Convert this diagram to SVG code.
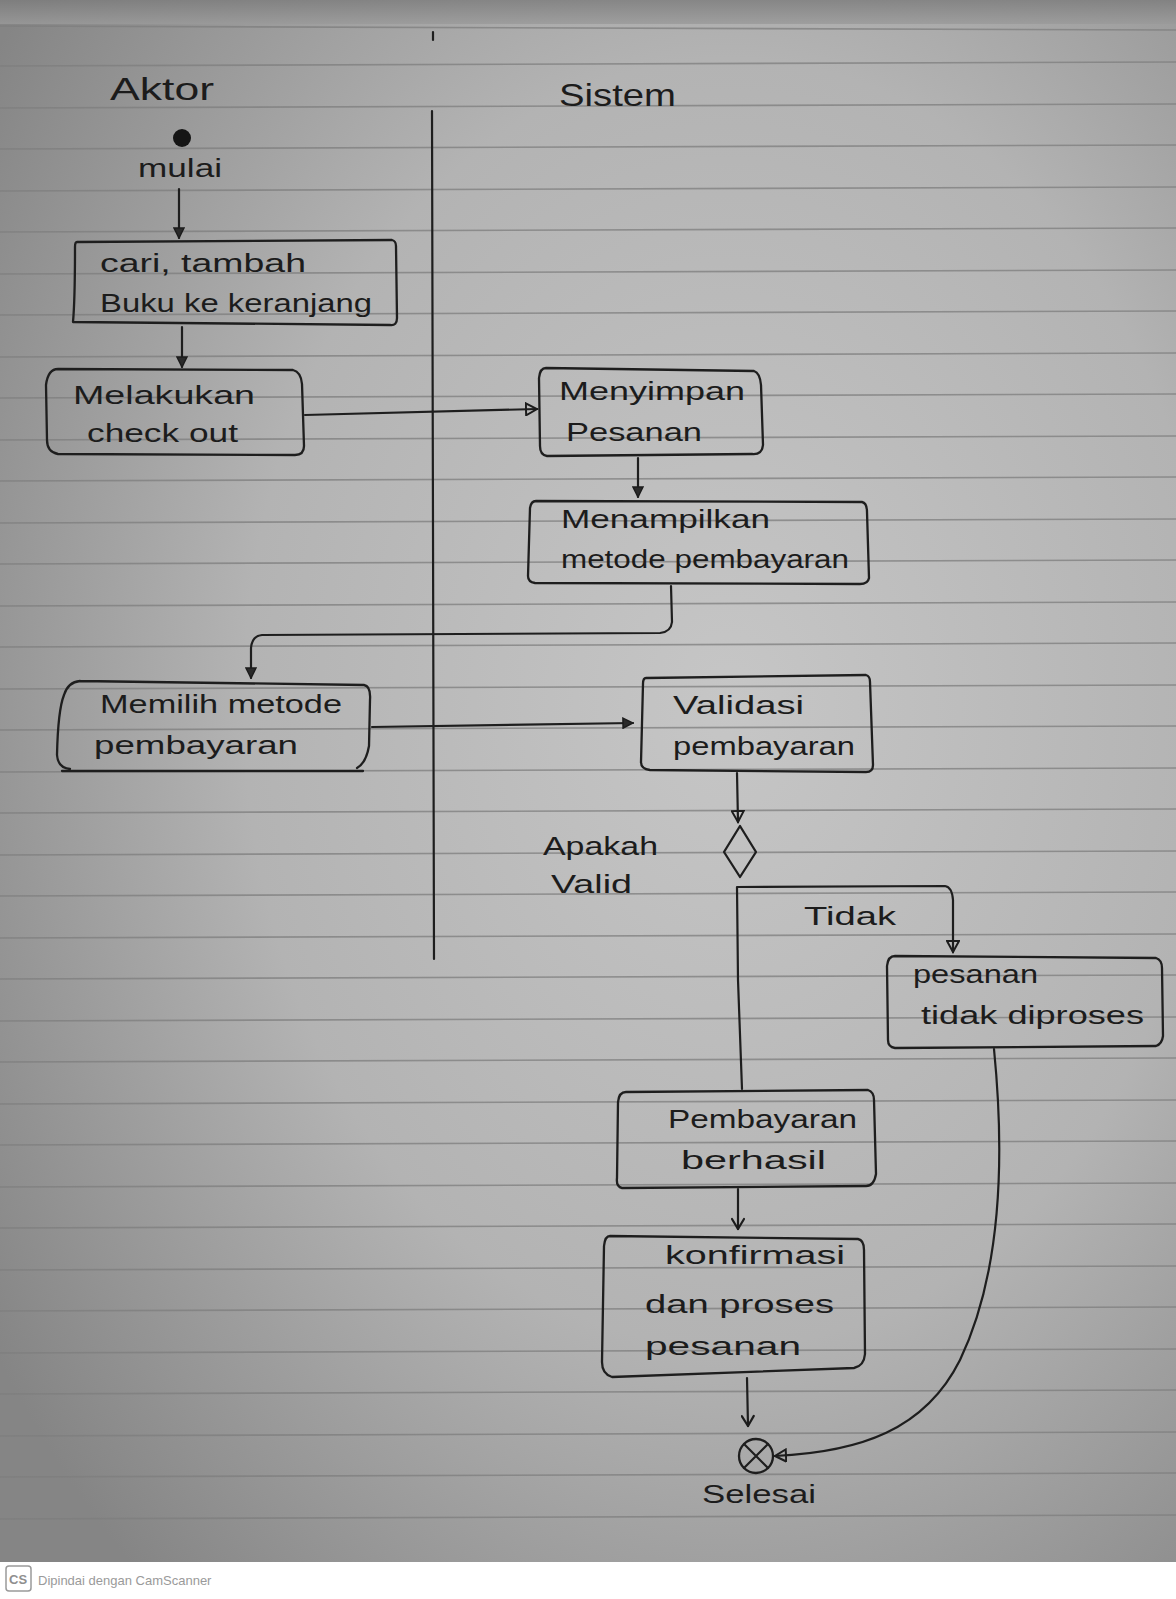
<svg xmlns="http://www.w3.org/2000/svg" width="1176" height="1599" viewBox="0 0 1176 1599">
<defs>
<radialGradient id="paper" cx="0.62" cy="0.45" r="0.75">
<stop offset="0" stop-color="#c6c6c6"/>
<stop offset="0.55" stop-color="#b3b3b3"/>
<stop offset="1" stop-color="#858585"/>
</radialGradient>
<linearGradient id="topband" x1="0" y1="0" x2="0" y2="1">
<stop offset="0" stop-color="#7c7c7c"/>
<stop offset="1" stop-color="#9a9a9a"/>
</linearGradient>
<marker id="arr" viewBox="0 0 12 12" refX="11" refY="6" markerWidth="12" markerHeight="12" markerUnits="userSpaceOnUse" orient="auto">
<path d="M1,1 L11,6 L1,11 Z" fill="#2a2a2a" stroke="#1c1c1c" stroke-width="1.5"/>
</marker>
<marker id="arrOpen" viewBox="0 0 14 14" refX="12" refY="7" markerWidth="14" markerHeight="14" markerUnits="userSpaceOnUse" orient="auto">
<path d="M1,1 L12,7 L1,13 Z" fill="none" stroke="#1c1c1c" stroke-width="2"/>
</marker>
<marker id="arrLine" viewBox="0 0 14 14" refX="12" refY="7" markerWidth="14" markerHeight="14" markerUnits="userSpaceOnUse" orient="auto">
<path d="M2,1 L12,7 L2,13" fill="none" stroke="#1c1c1c" stroke-width="2.2" stroke-linecap="round" stroke-linejoin="round"/>
</marker>
<style>
.box{fill:none;stroke:#1e1e1e;stroke-width:2.3;stroke-linejoin:round;stroke-linecap:round}
.ln{fill:none;stroke:#1e1e1e;stroke-width:2.2;stroke-linecap:round;stroke-linejoin:round}
.t{font-family:"Liberation Sans","DejaVu Sans",sans-serif;font-size:26px;fill:#1c1c1c}
.h{font-family:"Liberation Sans","DejaVu Sans",sans-serif;font-size:32px;fill:#1c1c1c}
.rule{stroke:#7e7e7e;stroke-width:1.6;opacity:0.75}
</style>
</defs>

<!-- paper background -->
<rect x="0" y="0" width="1176" height="1562" fill="url(#paper)"/>
<rect x="0" y="0" width="1176" height="24" fill="url(#topband)" opacity="0.8"/>
<rect x="0" y="1562" width="1176" height="37" fill="#ffffff"/>

<!-- ruled lines -->
<g id="rules" class="rule">
<line x1="0" y1="26" x2="1176" y2="30"/>
<line x1="0" y1="66" x2="1176" y2="62"/>
<line x1="0" y1="108" x2="1176" y2="104"/>
<line x1="0" y1="149" x2="1176" y2="145"/>
<line x1="0" y1="191" x2="1176" y2="187"/>
<line x1="0" y1="232" x2="1176" y2="228"/>
<line x1="0" y1="274" x2="1176" y2="270"/>
<line x1="0" y1="315" x2="1176" y2="311"/>
<line x1="0" y1="357" x2="1176" y2="353"/>
<line x1="0" y1="398" x2="1176" y2="394"/>
<line x1="0" y1="440" x2="1176" y2="436"/>
<line x1="0" y1="481" x2="1176" y2="477"/>
<line x1="0" y1="523" x2="1176" y2="519"/>
<line x1="0" y1="564" x2="1176" y2="560"/>
<line x1="0" y1="606" x2="1176" y2="602"/>
<line x1="0" y1="647" x2="1176" y2="643"/>
<line x1="0" y1="689" x2="1176" y2="685"/>
<line x1="0" y1="730" x2="1176" y2="726"/>
<line x1="0" y1="772" x2="1176" y2="768"/>
<line x1="0" y1="813" x2="1176" y2="809"/>
<line x1="0" y1="855" x2="1176" y2="851"/>
<line x1="0" y1="896" x2="1176" y2="892"/>
<line x1="0" y1="938" x2="1176" y2="934"/>
<line x1="0" y1="979" x2="1176" y2="975"/>
<line x1="0" y1="1021" x2="1176" y2="1017"/>
<line x1="0" y1="1062" x2="1176" y2="1058"/>
<line x1="0" y1="1104" x2="1176" y2="1100"/>
<line x1="0" y1="1145" x2="1176" y2="1141"/>
<line x1="0" y1="1187" x2="1176" y2="1183"/>
<line x1="0" y1="1228" x2="1176" y2="1224"/>
<line x1="0" y1="1270" x2="1176" y2="1266"/>
<line x1="0" y1="1311" x2="1176" y2="1307"/>
<line x1="0" y1="1353" x2="1176" y2="1349"/>
<line x1="0" y1="1394" x2="1176" y2="1390"/>
<line x1="0" y1="1436" x2="1176" y2="1432"/>
<line x1="0" y1="1477" x2="1176" y2="1473"/>
<line x1="0" y1="1519" x2="1176" y2="1515"/>
</g>

<!-- swimlanes -->
<g id="lanes">
<text class="h" x="110" y="100" textLength="104" lengthAdjust="spacingAndGlyphs">Aktor</text>
<text class="h" x="559" y="106" textLength="117" lengthAdjust="spacingAndGlyphs">Sistem</text>
<path class="ln" d="M432,111 L433,530 L434,959"/>
<path class="ln" d="M433,32 L433,40" stroke-width="3"/>
</g>

<!-- start -->
<g id="start">
<circle cx="182" cy="138" r="9" fill="#151515"/>
<text class="t" x="138" y="177" textLength="84" lengthAdjust="spacingAndGlyphs">mulai</text>
</g>

<g id="n1">
<path class="box" d="M77,242 L392,240 Q396,241 396,246 L397,318 Q397,326 390,325 L73,322 Q75,300 75,247 Q75,242 77,242 Z"/>
<text class="t" x="100" y="272" textLength="206" lengthAdjust="spacingAndGlyphs">cari, tambah</text>
<text class="t" x="100" y="312" textLength="272" lengthAdjust="spacingAndGlyphs">Buku ke keranjang</text>
</g>

<g id="n2">
<path class="box" d="M58,369 L293,370 Q301,372 302,384 L304,446 Q304,455 295,455 L58,454 Q47,452 47,440 L46,385 Q48,369 58,369 Z"/>
<text class="t" x="73" y="404" textLength="182" lengthAdjust="spacingAndGlyphs">Melakukan</text>
<text class="t" x="87" y="442" textLength="151" lengthAdjust="spacingAndGlyphs">check out</text>
</g>

<g id="n3">
<path class="box" d="M546,368 L754,371 Q760,373 761,385 L763,445 Q762,455 752,454 L547,456 Q540,455 540,446 L539,378 Q540,368 546,368 Z"/>
<text class="t" x="559" y="400" textLength="186" lengthAdjust="spacingAndGlyphs">Menyimpan</text>
<text class="t" x="566" y="441" textLength="136" lengthAdjust="spacingAndGlyphs">Pesanan</text>
</g>

<g id="n4">
<path class="box" d="M536,501 L862,502 Q867,503 867,512 L869,578 Q868,584 860,584 L535,583 Q528,582 528,576 L530,508 Q531,501 536,501 Z"/>
<text class="t" x="561" y="528" textLength="209" lengthAdjust="spacingAndGlyphs">Menampilkan</text>
<text class="t" x="561" y="568" textLength="288" lengthAdjust="spacingAndGlyphs">metode pembayaran</text>
</g>

<g id="n5">
<path class="box" d="M80,681 L364,685 Q371,686 370,700 L369,746 Q366,763 357,768 M70,769 Q58,768 57,755 Q58,710 64,695 Q68,682 80,681"/>
<path class="box" d="M62,771 L363,771"/>
<text class="t" x="100" y="713" textLength="242" lengthAdjust="spacingAndGlyphs">Memilih metode</text>
<text class="t" x="94" y="754" textLength="204" lengthAdjust="spacingAndGlyphs">pembayaran</text>
</g>

<g id="n6">
<path class="box" d="M646,678 L866,675 Q870,676 870,682 L873,765 Q873,772 866,772 L650,770 Q641,769 641,762 L643,684 Q643,678 646,678 Z"/>
<text class="t" x="673" y="714" textLength="131" lengthAdjust="spacingAndGlyphs">Validasi</text>
<text class="t" x="673" y="755" textLength="182" lengthAdjust="spacingAndGlyphs">pembayaran</text>
</g>

<g id="decision">
<path class="box" d="M740,826 L756,852 L740,877 L724,852 Z"/>
<text class="t" x="543" y="855" textLength="115" lengthAdjust="spacingAndGlyphs">Apakah</text>
<text class="t" x="551" y="893" textLength="81" lengthAdjust="spacingAndGlyphs">Valid</text>
</g>

<g id="n7">
<path class="box" d="M895,956 L1156,958 Q1162,960 1162,968 L1163,1036 Q1162,1044 1156,1046 L895,1048 Q888,1047 888,1040 L887,966 Q888,956 895,956 Z"/>
<text class="t" x="913" y="983" textLength="125" lengthAdjust="spacingAndGlyphs">pesanan</text>
<text class="t" x="921" y="1024" textLength="223" lengthAdjust="spacingAndGlyphs">tidak diproses</text>
</g>

<g id="n8">
<path class="box" d="M626,1092 L868,1090 Q874,1092 874,1100 L876,1174 Q874,1186 866,1186 L622,1188 Q616,1187 617,1178 L618,1102 Q619,1092 626,1092 Z"/>
<text class="t" x="668" y="1128" textLength="189" lengthAdjust="spacingAndGlyphs">Pembayaran</text>
<text class="t" x="681" y="1169" textLength="145" lengthAdjust="spacingAndGlyphs">berhasil</text>
</g>

<g id="n9">
<path class="box" d="M610,1236 L858,1239 Q864,1240 864,1250 L865,1354 Q864,1366 854,1368 L612,1377 Q602,1374 602,1362 L604,1246 Q605,1236 610,1236 Z"/>
<text class="t" x="665" y="1264" textLength="180" lengthAdjust="spacingAndGlyphs">konfirmasi</text>
<text class="t" x="645" y="1313" textLength="189" lengthAdjust="spacingAndGlyphs">dan proses</text>
<text class="t" x="645" y="1355" textLength="156" lengthAdjust="spacingAndGlyphs">pesanan</text>
</g>

<g id="end">
<circle cx="756" cy="1456" r="17" class="box"/>
<path class="ln" d="M744,1444 L768,1468 M768,1444 L744,1468"/>
<text class="t" x="702" y="1503" textLength="114" lengthAdjust="spacingAndGlyphs">Selesai</text>
</g>

<g id="connectors">
<path class="ln" d="M179,189 L179,238" marker-end="url(#arr)"/>
<path class="ln" d="M182,327 L182,367" marker-end="url(#arr)"/>
<path class="ln" d="M305,415 L537,409" marker-end="url(#arrOpen)"/>
<path class="ln" d="M638,458 L638,497" marker-end="url(#arr)"/>
<path class="ln" d="M671,586 L672,622 Q671,632 660,633 L262,635 Q252,636 251,648 L251,678" marker-end="url(#arr)"/>
<path class="ln" d="M372,727 L633,723" marker-end="url(#arr)"/>
<path class="ln" d="M737,773 L738,822" marker-end="url(#arrOpen)"/>
<path class="ln" d="M742,1089 L738,980 L737,887 L945,886 Q952,887 953,900 L953,952" marker-end="url(#arrOpen)"/>
<text class="t" x="804" y="925" textLength="92" lengthAdjust="spacingAndGlyphs">Tidak</text>
<path class="ln" d="M738,1189 L738,1229" marker-end="url(#arrLine)"/>
<path class="ln" d="M747,1378 L748,1426" marker-end="url(#arrLine)"/>
<path class="ln" d="M994,1049 C1004,1150 1003,1270 960,1360 C925,1430 860,1452 775,1456" marker-end="url(#arrOpen)"/>
</g>

<!-- scanner footer -->
<g id="footer">
<rect x="6" y="1566" width="25" height="25" rx="3" fill="none" stroke="#9a9a9a" stroke-width="1.5"/>
<text x="9" y="1584" font-family="Liberation Sans, sans-serif" font-size="13" font-weight="bold" fill="#8f8f8f">CS</text>
<text x="38" y="1585" font-family="Liberation Sans, sans-serif" font-size="13" fill="#9a9a9a">Dipindai dengan CamScanner</text>
</g>
</svg>
